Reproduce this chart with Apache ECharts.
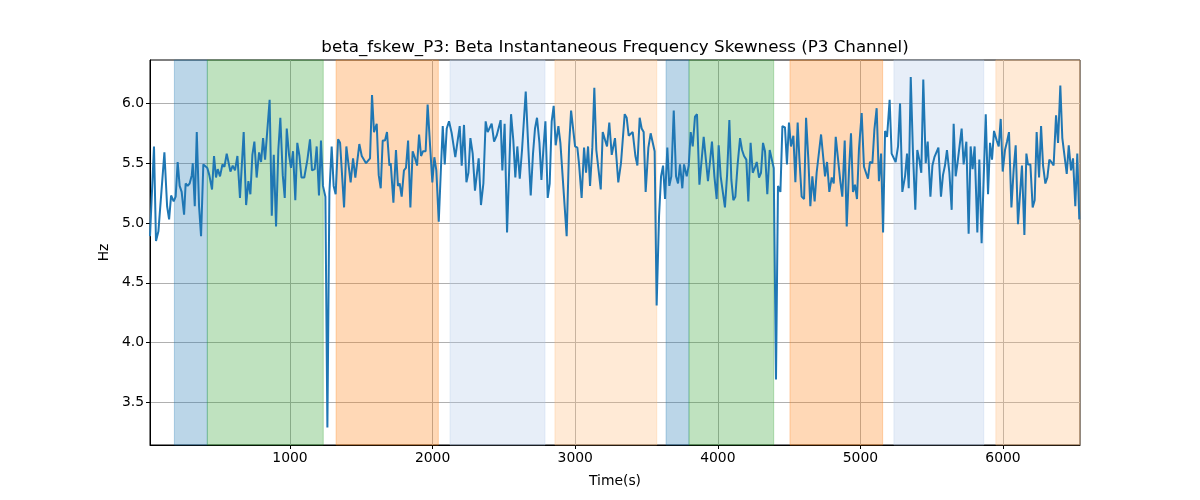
<!DOCTYPE html>
<html>
<head>
<meta charset="utf-8">
<script src="https://cdn.jsdelivr.net/npm/echarts@6/dist/echarts.min.js"></script>
<style>html,body{margin:0;padding:0;background:#fff}#c{width:1200px;height:500px}</style>
</head>
<body>
<div id="c"></div>
<script>
const titleText = "beta_fskew_P3: Beta Instantaneous Frequency Skewness (P3 Channel)";
const xTicks = [1000, 2000, 3000, 4000, 5000, 6000];
const yTicks = [3.5, 4.0, 4.5, 5.0, 5.5, 6.0];
const times = [18,46,60,77,119,138,152,166,184,198,212,226,240,257,268,282,296,311,318,332,346,362,376,392,406,420,434,453,467,481,493,509,526,540,556,582,598,614,631,649,675,692,708,722,736,750,766,783,797,811,825,857,872,886,902,918,932,949,963,977,993,1007,1021,1037,1051,1066,1080,1100,1122,1140,1154,1173,1187,1203,1217,1231,1248,1262,1276,1292,1306,1320,1337,1351,1379,1395,1409,1425,1442,1458,1486,1503,1533,1547,1561,1575,1589,1608,1622,1636,1650,1666,1680,1697,1706,1725,1743,1757,1769,1783,1799,1813,1828,1844,1860,1877,1891,1905,1919,1933,1951,1965,1982,1998,2012,2026,2043,2057,2071,2085,2099,2115,2134,2159,2190,2204,2220,2237,2251,2265,2281,2297,2323,2339,2356,2372,2386,2400,2414,2431,2449,2463,2477,2489,2505,2522,2550,2566,2580,2594,2611,2627,2653,2671,2688,2704,2718,2732,2749,2763,2777,2791,2807,2821,2835,2849,2863,2882,2896,2910,2940,2957,2971,2999,3015,3027,3045,3062,3076,3090,3104,3120,3134,3148,3162,3179,3193,3207,3223,3239,3256,3279,3291,3302,3321,3347,3361,3375,3389,3403,3422,3436,3452,3466,3480,3494,3513,3529,3543,3557,3571,3588,3602,3616,3630,3646,3660,3674,3691,3707,3721,3735,3751,3763,3782,3796,3810,3824,3840,3854,3871,3901,3915,3931,3945,3959,3976,3992,4006,4020,4034,4050,4065,4081,4095,4109,4123,4139,4156,4170,4184,4200,4214,4230,4245,4259,4273,4289,4303,4317,4331,4347,4364,4378,4392,4408,4422,4439,4453,4471,4485,4499,4513,4530,4544,4560,4572,4588,4605,4619,4635,4649,4663,4679,4693,4724,4752,4766,4782,4799,4813,4827,4841,4859,4873,4890,4904,4920,4934,4948,4962,4976,4990,5009,5025,5039,5053,5067,5084,5098,5114,5130,5145,5159,5173,5187,5205,5219,5233,5247,5264,5278,5294,5313,5327,5339,5353,5369,5385,5399,5413,5427,5441,5458,5472,5491,5505,5519,5533,5547,5565,5579,5593,5607,5624,5640,5654,5668,5682,5696,5710,5724,5743,5759,5773,5787,5801,5820,5834,5850,5879,5895,5909,5923,5937,5956,5970,5984,5998,6014,6028,6042,6059,6075,6089,6105,6119,6133,6150,6164,6175,6192,6208,6222,6236,6253,6267,6281,6297,6311,6325,6339,6355,6372,6386,6402,6416,6447,6461,6477,6491,6507,6521,6535];
const values = [4.89,5.64,4.85,4.93,5.59,5.14,5.03,5.23,5.18,5.22,5.51,5.31,5.26,5.07,5.33,5.31,5.33,5.40,5.50,5.14,5.76,5.14,4.89,5.49,5.49,5.46,5.40,5.28,5.56,5.38,5.45,5.39,5.49,5.47,5.58,5.43,5.48,5.44,5.56,5.21,5.76,5.15,5.35,5.24,5.57,5.68,5.38,5.59,5.51,5.71,5.53,6.03,5.06,5.57,4.97,5.61,5.88,5.40,5.21,5.79,5.57,5.46,5.60,5.19,5.67,5.56,5.38,5.38,5.53,5.70,5.44,5.45,5.64,5.23,5.69,5.31,5.22,3.29,5.25,5.64,5.31,5.24,5.70,5.67,5.13,5.64,5.50,5.34,5.54,5.38,5.66,5.56,5.50,5.49,5.54,6.07,5.76,5.83,5.40,5.29,5.69,5.69,5.76,5.48,5.50,5.17,5.61,5.31,5.33,5.22,5.44,5.46,5.69,5.13,5.60,5.54,5.48,5.74,5.56,5.60,5.60,5.99,5.65,5.34,5.55,5.44,5.01,5.42,5.81,5.49,5.79,5.85,5.75,5.55,5.81,5.48,5.82,5.34,5.42,5.71,5.58,5.27,5.54,5.15,5.33,5.85,5.76,5.76,5.83,5.68,5.73,5.74,5.86,5.44,5.83,4.92,5.91,5.69,5.38,5.64,5.37,5.61,6.10,5.63,5.23,5.58,5.79,5.88,5.67,5.36,5.62,5.85,5.21,5.33,5.85,5.98,5.65,5.81,5.67,5.67,4.89,5.64,5.94,5.64,5.63,5.49,5.21,5.63,5.42,5.64,5.31,5.63,6.13,5.61,5.61,5.28,5.76,5.77,5.64,5.84,5.57,5.71,5.72,5.34,5.50,5.91,5.88,5.73,5.72,5.76,5.56,5.48,5.88,5.79,5.76,5.26,5.63,5.75,5.74,5.60,4.31,5.06,5.39,5.48,5.20,5.63,5.31,5.39,5.94,5.39,5.33,5.49,5.29,5.49,5.39,5.48,5.76,5.64,5.89,5.91,5.32,5.72,5.71,5.35,5.51,5.68,5.39,5.20,5.65,5.39,5.39,5.13,5.40,5.86,5.36,5.19,5.22,5.49,5.71,5.61,5.56,5.53,5.18,5.67,5.42,5.46,5.51,5.38,5.42,5.67,5.60,5.24,5.61,5.61,5.46,3.69,5.31,5.26,5.81,5.80,5.49,5.84,5.64,5.73,5.34,5.84,5.54,5.22,5.20,5.88,5.53,5.14,5.39,5.18,5.42,5.74,5.39,5.51,5.26,5.38,5.33,5.72,5.71,5.35,5.22,5.69,4.97,5.44,5.75,5.26,5.32,5.20,5.62,5.92,5.47,5.46,5.37,5.51,5.50,5.78,5.96,5.35,5.58,4.92,5.77,5.72,6.03,5.58,5.58,5.51,5.64,6.00,5.26,5.39,5.58,5.29,6.22,5.57,5.11,5.61,5.53,5.42,6.20,5.50,5.68,5.22,5.48,5.55,5.55,5.63,5.22,5.40,5.48,5.61,5.42,5.11,5.83,5.39,5.51,5.51,5.79,5.49,5.68,4.91,5.64,5.45,5.64,4.92,5.53,4.83,5.91,5.24,5.67,5.53,5.77,5.69,5.64,5.87,5.43,5.61,5.68,5.76,5.13,5.45,5.65,4.99,4.99,5.48,4.90,5.58,5.49,5.49,5.13,5.19,5.76,5.38,5.81,5.48,5.33,5.38,5.53,5.51,5.48,5.90,5.67,6.15,5.71,5.41,5.65,5.44,5.54,5.14,5.58,5.03];
const regionStarts = [189, 420, 1323, 2122, 2858, 3637, 3798, 4506, 5235, 5950];
const regionEnds = [420, 1233, 2040, 2788, 3572, 3798, 4392, 5156, 5865, 6540];
const regionKinds = ["blue", "green", "orange", "lightblue", "lightorange", "blue", "green", "orange", "lightblue", "lightorange"];
const kindColors = {
  blue: "rgba(31,119,180,0.3)",
  green: "rgba(44,160,44,0.3)",
  orange: "rgba(255,127,14,0.3)",
  lightblue: "rgba(174,199,232,0.3)",
  lightorange: "rgba(255,187,120,0.3)"
};

const seriesData = times.map((t, i) => [t, values[i]]);
const areas = regionStarts.map((s, i) => [
  { xAxis: s, itemStyle: { color: kindColors[regionKinds[i]], borderColor: kindColors[regionKinds[i]], borderWidth: 1 } },
  { xAxis: regionEnds[i] }
]);

const font = "DejaVu Sans";
const chart = echarts.init(document.getElementById('c'), null, { renderer: 'canvas' });
chart.setOption({
  animation: false,
  backgroundColor: '#fff',
  title: {
    text: titleText,
    left: 610,
    textAlign: 'center',
    top: 34,
    textStyle: { fontFamily: font, fontSize: 16.7, fontWeight: 'normal', color: '#000' }
  },
  grid: { left: 150, right: 120, top: 60, bottom: 55, show: true, borderColor: '#000', borderWidth: 1, backgroundColor: 'transparent' },
  xAxis: {
    type: 'value', min: 18, max: 6540,
    name: 'Time(s)', nameLocation: 'middle', nameGap: 29,
    nameTextStyle: { fontFamily: font, fontSize: 13.9, color: '#000' },
    axisLine: { show: true, lineStyle: { color: '#000', width: 1 } },
    axisTick: { show: true, inside: false, length: 4, customValues: xTicks, lineStyle: { color: '#000' } },
    axisLabel: { customValues: xTicks, fontFamily: font, fontSize: 13.9, color: '#000', margin: 6, formatter: v => String(v) },
    splitLine: { show: true, customValues: xTicks, lineStyle: { color: '#b0b0b0', width: 1 } }
  },
  yAxis: {
    type: 'value', min: 3.143, max: 6.363,
    name: 'Hz', nameLocation: 'middle', nameGap: 36,
    nameTextStyle: { fontFamily: font, fontSize: 13.9, color: '#000' },
    axisLine: { show: true, lineStyle: { color: '#000', width: 1 } },
    axisTick: { show: true, inside: false, length: 4, customValues: yTicks, lineStyle: { color: '#000' } },
    axisLabel: { customValues: yTicks, fontFamily: font, fontSize: 13.9, color: '#000', margin: 6, formatter: v => v.toFixed(1) },
    splitLine: { show: true, customValues: yTicks, lineStyle: { color: '#b0b0b0', width: 1 } }
  },
  series: [{
    type: 'line',
    data: seriesData,
    showSymbol: false,
    symbol: 'none',
    lineStyle: { color: '#1f77b4', width: 2 },
    itemStyle: { color: '#1f77b4' },
    z: 3,
    markArea: { silent: true, z: 1, data: areas }
  }]
});
</script>
</body>
</html>
